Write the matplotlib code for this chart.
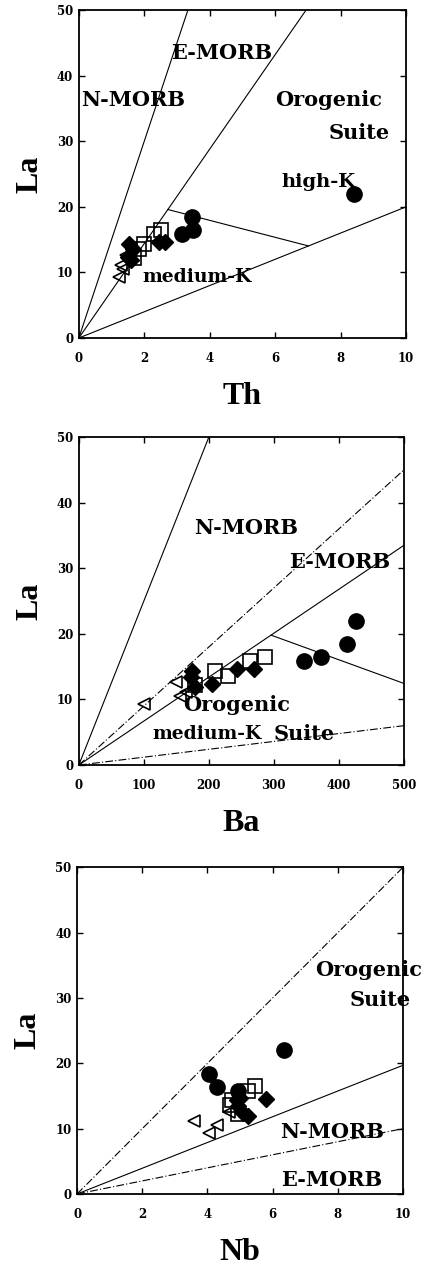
import numpy as np
import matplotlib.pyplot as plt

# Amostras: La contra Th, Ba e Nb (ppm)
la_circ = [22.0, 18.4, 16.4, 15.8]
th_circ = [8.4, 3.45, 3.5, 3.15]
ba_circ = [427, 412, 373, 346]
nb_circ = [6.35, 4.05, 4.3, 4.95]

la_quad = [16.5, 15.8, 14.4, 13.6, 12.2]
th_quad = [2.5, 2.3, 2.0, 1.85, 1.7]
ba_quad = [287, 263, 209, 229, 178]
nb_quad = [5.45, 5.25, 4.75, 4.7, 4.95]

la_losango = [14.6, 14.7, 14.4, 12.4, 11.9, 13.5]
th_losango = [2.63, 2.45, 1.52, 1.5, 1.6, 1.65]
ba_losango = [270, 244, 174, 205, 179, 172]
nb_losango = [5.8, 5.0, 4.9, 5.1, 5.25, 4.95]

la_tri = [9.3, 10.6, 11.1, 12.6]
th_tri = [1.23, 1.35, 1.3, 1.45]
ba_tri = [100, 155, 165, 150]
nb_tri = [4.05, 4.3, 3.6, 4.65]

# Razões La/X das linhas que partem da origem e estilo de cada uma
razoes_th = [15.0, 7.2, 2.0]
estilos_th = ['-', '-', '-']
razoes_ba = [0.25, 0.09, 0.067, 0.012]
estilos_ba = ['-', 'dashdot', '-', 'dashdot']
razoes_nb = [5.0, 1.97, 1.0]
estilos_nb = ['dashdot', '-', 'dashdot']

# Segmento que separa high-K de medium-K (x, La)
divisor_th = ([2.72, 7.02], [19.6, 14.04])
divisor_ba = ([296, 500], [19.8, 12.45])

# Rótulos dos campos: (x, La, texto, tamanho, alinhamento)
rotulos_th = [(4.36, 43.4, 'E-MORB', 15, 'center'),
              (1.66, 36.3, 'N-MORB', 15, 'center'),
              (9.26, 36.3, 'Orogenic', 15, 'right'),
              (9.5, 31.2, 'Suite', 15, 'right'),
              (7.32, 23.8, 'high-K', 14, 'center'),
              (3.62, 9.35, 'medium-K', 13.5, 'center')]
rotulos_ba = [(258, 36.1, 'N-MORB', 15, 'center'),
              (401, 31.0, 'E-MORB', 15, 'center'),
              (243, 9.15, 'Orogenic', 15, 'center'),
              (198, 4.8, 'medium-K', 13.5, 'center'),
              (346, 4.8, 'Suite', 15, 'center')]
rotulos_nb = [(8.94, 34.25, 'Orogenic', 15, 'center'),
              (9.3, 29.7, 'Suite', 15, 'center'),
              (7.81, 9.5, 'N-MORB', 15, 'center'),
              (7.81, 2.1, 'E-MORB', 15, 'center')]

paineis = [
    ('Th', 10, 2, razoes_th, estilos_th, divisor_th, rotulos_th,
     [th_circ, th_quad, th_losango, th_tri], [0.185, 0.733, 0.768, 0.259]),
    ('Ba', 500, 100, razoes_ba, estilos_ba, divisor_ba, rotulos_ba,
     [ba_circ, ba_quad, ba_losango, ba_tri], [0.185, 0.3957, 0.763, 0.259]),
    ('Nb', 10, 2, razoes_nb, estilos_nb, None, rotulos_nb,
     [nb_circ, nb_quad, nb_losango, nb_tri], [0.181, 0.0569, 0.765, 0.258]),
]

fonte_eixo = 'Liberation Serif'
fonte_texto = 'DejaVu Serif'
traco_ponto = (0, (7, 2, 1, 2))

fig = plt.figure(figsize=(4.26, 12.66), dpi=100)

for nome, xmax, passo, razoes, estilos, divisor, rotulos, xs, pos in paineis:
    ax = fig.add_axes(pos)
    ymax = 50

    for r, est in zip(razoes, estilos):
        x_fim = min(xmax, ymax / r)
        x = np.array([0, x_fim])
        ls = traco_ponto if est == 'dashdot' else '-'
        ax.plot(x, r * x, color='black', lw=0.8, ls=ls, zorder=1)

    if divisor is not None:
        ax.plot(divisor[0], divisor[1], color='black', lw=0.8, zorder=1)

    for x, y, txt, tam, ha in rotulos:
        ax.text(x, y, txt, fontsize=tam, fontweight='bold', family=fonte_texto,
                ha=ha, va='center', zorder=2)

    x_c, x_q, x_l, x_t = xs
    ax.plot(x_l, la_losango, 'D', ms=8, color='black', zorder=3)
    ax.plot(x_t, la_tri, '<', ms=9, mfc='none', mec='black', mew=1.2, zorder=3)
    ax.plot(x_q, la_quad, 's', ms=9.5, mfc='none', mec='black', mew=1.2, zorder=3)
    ax.plot(x_c, la_circ, 'o', ms=11, color='black', zorder=4)

    ax.set_xlim(0, xmax)
    ax.set_ylim(0, ymax)
    ax.set_xticks(np.arange(0, xmax + passo / 2, passo))
    ax.set_yticks(np.arange(0, 51, 10))
    ax.tick_params(direction='in', top=True, right=True, length=4, width=1)
    ax.tick_params(axis='x', pad=10)
    ax.tick_params(axis='y', pad=4)
    for lab in ax.get_xticklabels() + ax.get_yticklabels():
        lab.set_fontfamily(fonte_texto)
        lab.set_fontweight('bold')
        lab.set_fontsize(8.5)
    for sp in ax.spines.values():
        sp.set_linewidth(1.3)

    ax.set_xlabel(nome, fontsize=23, fontweight='bold', family=fonte_eixo)
    ax.set_ylabel('La', fontsize=23, fontweight='bold', family=fonte_eixo)
    ax.xaxis.set_label_coords(0.5, -0.135)
    ax.yaxis.set_label_coords(-0.105, 0.5)

fig.savefig('out.png', dpi=100)
